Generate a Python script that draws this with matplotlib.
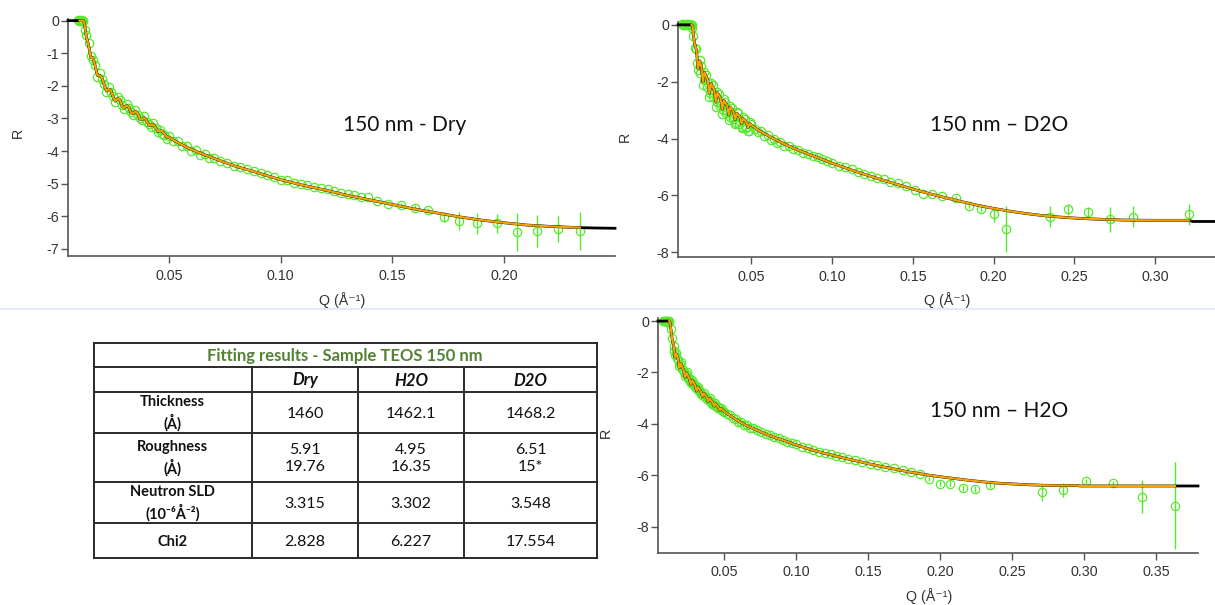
import matplotlib
matplotlib.use('Agg')
import matplotlib.pyplot as plt
from matplotlib.ticker import FormatStrFormatter

plt.rcParams['font.family'] = ['Liberation Sans', 'DejaVu Sans']
plt.rcParams['axes.unicode_minus'] = False

# ---------------- 150 nm - Dry ----------------
fit_q_dry = [0.0048, 0.0100, 0.0115, 0.0120, 0.0125,
             0.013, 0.014, 0.015, 0.016, 0.017, 0.018, 0.019, 0.020, 0.021, 0.022,
             0.023, 0.024, 0.025, 0.026, 0.027, 0.028, 0.029, 0.030, 0.031, 0.032,
             0.033, 0.034, 0.035, 0.036, 0.037, 0.038, 0.039, 0.040, 0.041, 0.042,
             0.043, 0.044, 0.045, 0.046, 0.047, 0.048, 0.049, 0.050,
             0.055, 0.060, 0.065, 0.070, 0.075, 0.080, 0.085, 0.090, 0.095, 0.100,
             0.110, 0.120, 0.130, 0.140, 0.150, 0.160, 0.170, 0.180, 0.190, 0.200,
             0.210, 0.220, 0.230, 0.234, 0.240, 0.2497]
fit_r_dry = [0.0, 0.0, 0.0, -0.05, -0.25,
             -0.50, -0.75, -1.13, -1.15, -1.40, -1.68, -1.68, -1.75, -1.98, -2.16,
             -2.10, -2.14, -2.35, -2.47, -2.39, -2.42, -2.62, -2.68, -2.60, -2.65,
             -2.83, -2.85, -2.78, -2.86, -3.02, -3.03, -2.98, -3.07, -3.20, -3.21,
             -3.18, -3.28, -3.39, -3.39, -3.39, -3.48, -3.57, -3.58,
             -3.78, -3.95, -4.09, -4.22, -4.35, -4.47, -4.57, -4.67, -4.78, -4.88,
             -5.05, -5.20, -5.36, -5.50, -5.64, -5.78, -5.90, -6.02, -6.12, -6.20,
             -6.27, -6.31, -6.34, -6.35, -6.36, -6.37]
q_dry = [0.0095, 0.0098, 0.0101, 0.0104, 0.0107, 0.0110, 0.0113, 0.0116, 0.0124,
         0.013, 0.014, 0.015, 0.016, 0.017, 0.018, 0.019, 0.020, 0.021, 0.022,
         0.023, 0.024, 0.025, 0.026, 0.027, 0.028, 0.029, 0.030, 0.031, 0.032,
         0.033, 0.034, 0.035, 0.036, 0.037, 0.038, 0.039, 0.040, 0.041, 0.042,
         0.043, 0.044, 0.045, 0.046, 0.047, 0.048, 0.049, 0.050,
         0.052, 0.054, 0.056, 0.058, 0.060, 0.062, 0.064, 0.066, 0.068, 0.070,
         0.073, 0.076, 0.079, 0.082, 0.085, 0.088, 0.091, 0.094, 0.097, 0.100,
         0.103, 0.106, 0.109, 0.112, 0.115, 0.118, 0.121, 0.124, 0.127,
         0.130, 0.133, 0.136, 0.139, 0.143]
r_dry = [0.01, -0.01, 0.02, 0.0, -0.02, 0.01, 0.0, -0.02, -0.29,
         -0.45, -0.70, -1.10, -1.20, -1.35, -1.72, -1.62, -1.80, -1.95, -2.20,
         -2.05, -2.18, -2.30, -2.50, -2.35, -2.45, -2.58, -2.70, -2.56, -2.68,
         -2.80, -2.88, -2.74, -2.90, -2.98, -3.06, -2.94, -3.10, -3.16, -3.25,
         -3.14, -3.30, -3.42, -3.36, -3.48, -3.52, -3.62, -3.55,
         -3.70, -3.70, -3.86, -3.84, -4.00, -3.96, -4.12, -4.08, -4.22, -4.20,
         -4.30, -4.38, -4.46, -4.50, -4.56, -4.62, -4.67, -4.74, -4.80, -4.88,
         -4.90, -4.97, -5.00, -5.05, -5.10, -5.14, -5.18, -5.22, -5.28,
         -5.32, -5.36, -5.40, -5.42, -5.52]
q_dry_tail = [0.148, 0.154, 0.160, 0.166, 0.173, 0.180, 0.188, 0.197, 0.206, 0.215, 0.224, 0.234]
r_dry_tail = [-5.62, -5.66, -5.74, -5.82, -6.03, -6.14, -6.22, -6.22, -6.49, -6.44, -6.39, -6.45]
e_dry_tail = [0.05, 0.06, 0.07, 0.08, 0.15, 0.28, 0.33, 0.28, 0.59, 0.49, 0.41, 0.59]

# ---------------- 150 nm - D2O ----------------
fit_q_d2o = [0.0046, 0.0130, 0.0137,
             0.014, 0.015, 0.016, 0.017, 0.018, 0.019, 0.020, 0.021, 0.022,
             0.023, 0.024, 0.025, 0.026, 0.027, 0.028, 0.029, 0.030, 0.031, 0.032,
             0.033, 0.034, 0.035, 0.036, 0.037, 0.038, 0.039, 0.040, 0.041, 0.042,
             0.043, 0.044, 0.045, 0.046, 0.047, 0.048, 0.049, 0.050,
             0.055, 0.060, 0.065, 0.070, 0.075, 0.080, 0.085, 0.090, 0.095, 0.100,
             0.110, 0.120, 0.130, 0.140, 0.150, 0.160, 0.170, 0.180, 0.190, 0.200,
             0.210, 0.220, 0.230, 0.240, 0.250, 0.260, 0.270, 0.280, 0.300, 0.321,
             0.323, 0.337]
fit_r_d2o = [0.0, 0.0, -0.05,
             -0.30, -0.70, -0.88, -1.55, -1.28, -1.45, -2.01, -1.68, -1.81,
             -1.94, -2.41, -2.07, -2.18, -2.30, -2.71, -2.39, -2.49, -2.60, -2.96,
             -2.66, -2.75, -2.84, -3.17, -2.90, -2.97, -3.06, -3.34, -3.11, -3.18,
             -3.25, -3.48, -3.30, -3.36, -3.43, -3.61, -3.47, -3.53,
             -3.73, -3.89, -4.04, -4.18, -4.31, -4.43, -4.54, -4.65, -4.76, -4.87,
             -5.07, -5.26, -5.44, -5.61, -5.78, -5.94, -6.08, -6.22, -6.35, -6.46,
             -6.56, -6.64, -6.71, -6.76, -6.80, -6.83, -6.85, -6.87, -6.88, -6.88,
             -6.92, -6.92]
q_d2o = [0.0070, 0.0075, 0.0080, 0.0085, 0.0090, 0.0095, 0.0100, 0.0105, 0.0110,
         0.0115, 0.0120, 0.0125, 0.0130, 0.0135,
         0.014, 0.015, 0.016, 0.017, 0.018, 0.019, 0.020, 0.021, 0.022,
         0.023, 0.024, 0.025, 0.026, 0.027, 0.028, 0.029, 0.030, 0.031, 0.032,
         0.033, 0.034, 0.035, 0.036, 0.037, 0.038, 0.039, 0.040, 0.041, 0.042,
         0.043, 0.044, 0.045, 0.046, 0.047, 0.048, 0.049, 0.050,
         0.0165, 0.0185, 0.0205, 0.0225, 0.0245, 0.0265, 0.0285, 0.0305, 0.0325,
         0.0345, 0.0365, 0.0385, 0.0405, 0.0425, 0.0445, 0.0465, 0.0485,
         0.052, 0.054, 0.056, 0.058, 0.060, 0.062, 0.064, 0.066, 0.068, 0.070,
         0.073, 0.076, 0.079, 0.082, 0.085, 0.088, 0.091, 0.094, 0.097, 0.100,
         0.104, 0.108, 0.112, 0.116, 0.120, 0.124, 0.128, 0.132, 0.136,
         0.141, 0.146, 0.151, 0.156, 0.162, 0.168]
r_d2o = [0.02, 0.0, 0.03, 0.01, -0.01, 0.02, 0.0, 0.03, 0.01,
         -0.01, 0.02, 0.0, -0.02, -0.10,
         -0.40, -0.80, -0.85, -1.60, -1.25, -1.45, -2.10, -1.65, -1.75,
         -2.05, -2.55, -2.05, -2.10, -2.45, -2.90, -2.35, -2.42, -2.78, -3.15,
         -2.62, -2.70, -3.02, -3.35, -2.85, -2.92, -3.25, -3.50, -3.05, -3.12,
         -3.42, -3.62, -3.25, -3.32, -3.58, -3.72, -3.42, -3.50,
         -1.35, -1.70, -1.95, -2.20, -2.40, -2.55, -2.70, -2.85, -3.00,
         -3.10, -3.25, -3.32, -3.45, -3.50, -3.58, -3.64, -3.72,
         -3.66, -3.78, -3.72, -3.92, -3.88, -4.05, -4.00, -4.16, -4.12, -4.26,
         -4.28, -4.38, -4.42, -4.50, -4.53, -4.63, -4.65, -4.72, -4.80, -4.85,
         -4.95, -5.02, -5.08, -5.17, -5.25, -5.32, -5.38, -5.44, -5.54,
         -5.58, -5.68, -5.80, -5.95, -5.97, -6.04]
q_d2o_tail = [0.1766, 0.1847, 0.192, 0.200, 0.2076, 0.235, 0.246, 0.2585, 0.272, 0.286, 0.321]
r_d2o_tail = [-6.10, -6.37, -6.49, -6.67, -7.18, -6.75, -6.49, -6.60, -6.84, -6.75, -6.67]
e_d2o_tail = [0.06, 0.08, 0.10, 0.26, 0.82, 0.38, 0.20, 0.20, 0.44, 0.38, 0.38]

# ---------------- 150 nm - H2O ----------------
fit_q_h2o = [0.0042, 0.0120, 0.0128,
             0.013, 0.014, 0.015, 0.016, 0.017, 0.018, 0.019, 0.020, 0.021, 0.022,
             0.023, 0.024, 0.025, 0.026, 0.027, 0.028, 0.029, 0.030, 0.031, 0.032,
             0.033, 0.034, 0.035, 0.036, 0.037, 0.038, 0.039, 0.040, 0.041, 0.042,
             0.043, 0.044, 0.045, 0.046, 0.047, 0.048, 0.049, 0.050,
             0.055, 0.060, 0.065, 0.070, 0.075, 0.080, 0.085, 0.090, 0.095, 0.100,
             0.110, 0.120, 0.130, 0.140, 0.150, 0.160, 0.170, 0.180, 0.190, 0.200,
             0.210, 0.220, 0.230, 0.240, 0.250, 0.260, 0.270, 0.280, 0.295, 0.297,
             0.363, 0.379]
fit_r_h2o = [0.0, 0.0, -0.10,
             -0.25, -0.70, -0.92, -1.40, -1.28, -1.45, -1.82, -1.65, -1.78, -1.92,
             -2.19, -2.02, -2.13, -2.24, -2.48, -2.31, -2.40, -2.51, -2.72, -2.57,
             -2.66, -2.75, -2.94, -2.81, -2.88, -2.96, -3.13, -3.01, -3.09, -3.16,
             -3.31, -3.22, -3.28, -3.35, -3.47, -3.40, -3.46, -3.51,
             -3.71, -3.89, -4.05, -4.18, -4.30, -4.42, -4.53, -4.62, -4.72, -4.82,
             -5.00, -5.15, -5.29, -5.42, -5.55, -5.67, -5.78, -5.89, -5.98, -6.06,
             -6.13, -6.20, -6.26, -6.31, -6.34, -6.37, -6.39, -6.40, -6.40, -6.42,
             -6.42, -6.42]
q_h2o = [0.0080, 0.0085, 0.0090, 0.0095, 0.0100, 0.0105, 0.0110, 0.0115, 0.0120,
         0.013, 0.014, 0.015, 0.016, 0.017, 0.018, 0.019, 0.020, 0.021, 0.022,
         0.023, 0.024, 0.025, 0.026, 0.027, 0.028, 0.029, 0.030, 0.031, 0.032,
         0.033, 0.034, 0.035, 0.036, 0.037, 0.038, 0.039, 0.040, 0.041, 0.042,
         0.043, 0.044, 0.045, 0.046, 0.047, 0.048, 0.049, 0.050,
         0.0155, 0.0175, 0.0195, 0.0215, 0.0235, 0.0255, 0.0275, 0.0295, 0.0315,
         0.0335, 0.0355, 0.0375, 0.0395, 0.0415, 0.0435, 0.0455, 0.0475, 0.0495,
         0.052, 0.054, 0.056, 0.058, 0.060, 0.062, 0.064, 0.066, 0.068, 0.070,
         0.073, 0.076, 0.079, 0.082, 0.085, 0.088, 0.091, 0.094, 0.097, 0.100,
         0.104, 0.108, 0.112, 0.116, 0.120, 0.124, 0.128, 0.132, 0.136,
         0.141, 0.146, 0.151, 0.156, 0.162, 0.168, 0.174, 0.180, 0.186]
r_h2o = [0.01, -0.01, 0.02, 0.0, 0.01, -0.02, 0.01, 0.0, -0.05,
         -0.30, -0.65, -0.98, -1.32, -1.25, -1.52, -1.75, -1.60, -1.85, -1.98,
         -2.12, -1.98, -2.20, -2.30, -2.42, -2.28, -2.46, -2.58, -2.66, -2.55,
         -2.72, -2.82, -2.88, -2.80, -2.95, -3.03, -3.08, -3.00, -3.15, -3.22,
         -3.26, -3.20, -3.34, -3.40, -3.42, -3.38, -3.52, -3.55,
         -1.15, -1.42, -1.68, -1.90, -2.05, -2.22, -2.36, -2.50, -2.62,
         -2.74, -2.86, -2.98, -3.08, -3.18, -3.28, -3.36, -3.44, -3.50,
         -3.60, -3.66, -3.77, -3.80, -3.92, -3.93, -4.05, -4.05, -4.15, -4.16,
         -4.26, -4.32, -4.40, -4.45, -4.52, -4.57, -4.64, -4.69, -4.76, -4.80,
         -4.89, -4.95, -5.02, -5.08, -5.13, -5.19, -5.25, -5.30, -5.36,
         -5.42, -5.49, -5.55, -5.61, -5.68, -5.73, -5.80, -5.86, -5.95]
q_h2o_tail = [0.1921, 0.1997, 0.2071, 0.2158, 0.2245, 0.2349, 0.2706, 0.2852, 0.3012, 0.3197, 0.340, 0.3632]
r_h2o_tail = [-6.15, -6.34, -6.34, -6.51, -6.54, -6.38, -6.67, -6.58, -6.23, -6.32, -6.84, -7.19]
e_h2o_tail = [0.08, 0.10, 0.10, 0.12, 0.12, 0.10, 0.32, 0.26, 0.10, 0.10, 0.64, 1.69]

# ---------------- table ----------------
table_title = 'Fitting results - Sample TEOS 150 nm'
table_header = ['Dry', 'H2O', 'D2O']
table_rows = ['Thickness\n(Å)', 'Roughness\n(Å)', 'Neutron SLD\n(10⁻⁶Å⁻²)', 'Chi2']
table_values = [['1460', '1462.1', '1468.2'],
                ['5.91\n19.76', '4.95\n16.35', '6.51\n15*'],
                ['3.315', '3.302', '3.548'],
                ['2.828', '6.227', '17.554']]

GREEN = '#55ea2c'
ORANGE = '#f5a300'
AXC = '#555555'
W, H = 1215, 605

fig = plt.figure(figsize=(W / 100, H / 100), dpi=100)


def px_axes(left, top, right, bottom):
    return fig.add_axes([left / W, 1 - bottom / H, (right - left) / W, (bottom - top) / H])


def draw_panel(ax, fit_q, fit_r, q, r, qt, rt, et, xlim, ylim, xticks, yticks):
    ax.plot(q, r, 'o', ms=6, mfc='none', mec=GREEN, mew=0.9, zorder=2, clip_on=False)
    ax.errorbar(qt, rt, yerr=et, fmt='o', ms=6, mfc='none', mec=GREEN, mew=0.9,
                ecolor=GREEN, elinewidth=1.0, capsize=0, zorder=2, clip_on=False)
    ax.plot(fit_q, fit_r, color='black', lw=2.0, zorder=3, clip_on=False)
    lo, hi = min(q), max(qt)
    oq = [a for a in fit_q if lo <= a <= hi + 1e-4]
    orr = [b for a, b in zip(fit_q, fit_r) if lo <= a <= hi + 1e-4]
    ax.plot(oq, orr, color=ORANGE, lw=1.6, zorder=4, clip_on=False)
    ax.set_xlim(*xlim)
    ax.set_ylim(*ylim)
    ax.set_xticks(xticks)
    ax.set_yticks(yticks)
    ax.xaxis.set_major_formatter(FormatStrFormatter('%.2f'))
    ax.yaxis.set_major_formatter(FormatStrFormatter('%d'))
    for s in ['top', 'right']:
        ax.spines[s].set_visible(False)
    for s in ['left', 'bottom']:
        ax.spines[s].set_color(AXC)
        ax.spines[s].set_linewidth(1.2)
    ax.tick_params(direction='out', length=5, width=1, color=AXC, labelsize=10.3,
                   labelcolor='#333333')
    ax.tick_params(axis='x', pad=4)
    ax.tick_params(axis='y', pad=1.5)
    ax.patch.set_alpha(0)


ax1 = px_axes(68, 19, 615, 256)
draw_panel(ax1, fit_q_dry, fit_r_dry, q_dry, r_dry, q_dry_tail, r_dry_tail, e_dry_tail,
           (0.0048, 0.2497), (-7.22, 0.05), [0.05, 0.10, 0.15, 0.20], range(0, -8, -1))

ax2 = px_axes(678, 22, 1215, 257)
draw_panel(ax2, fit_q_d2o, fit_r_d2o, q_d2o, r_d2o, q_d2o_tail, r_d2o_tail, e_d2o_tail,
           (0.0046, 0.337), (-8.17, 0.1), [0.05, 0.10, 0.15, 0.20, 0.25, 0.30], [0, -2, -4, -6, -8])

ax3 = px_axes(658, 318, 1198, 553)
draw_panel(ax3, fit_q_h2o, fit_r_h2o, q_h2o, r_h2o, q_h2o_tail, r_h2o_tail, e_h2o_tail,
           (0.0042, 0.379), (-9.03, 0.12), [0.05, 0.10, 0.15, 0.20, 0.25, 0.30, 0.35],
           [0, -2, -4, -6, -8])

# overlay in pixel coordinates for labels, titles and the results table
ov = fig.add_axes([0, 0, 1, 1], zorder=10)
ov.set_xlim(0, W)
ov.set_ylim(H, 0)
ov.axis('off')

ov.plot([0, W], [308.5, 308.5], color='#dde7f1', lw=1.2)

lab = dict(fontsize=10.3, color='#333333', ha='center', va='center',
           family=['Liberation Sans', 'DejaVu Sans'])
for x, y in [(18, 133), (625, 137), (606, 433)]:
    ov.text(x, y, 'R', rotation=90, **lab)
for x, y in [(342, 300), (947, 300), (929, 596)]:
    ov.text(x, y, 'Q (Å⁻¹)', **lab)

note = dict(fontsize=15, color='#111111', ha='center', va='center', family=['Lato', 'DejaVu Sans'])
ov.text(405, 125, '150 nm - Dry', **note)
ov.text(999, 125, '150 nm – D2O', **note)
ov.text(999, 411, '150 nm – H2O', **note)

# table grid
xs = [93.5, 252, 358, 464, 597]
ys = [343, 367, 392, 433, 482, 523, 558]
lc = '#2a2a2a'
for y in ys:
    ov.plot([xs[0], xs[-1]], [y, y], color=lc, lw=1.4, solid_capstyle='projecting')
for x in [xs[0], xs[-1]]:
    ov.plot([x, x], [ys[0], ys[-1]], color=lc, lw=1.4)
for x in xs[1:-1]:
    ov.plot([x, x], [ys[1], ys[-1]], color=lc, lw=1.4)

tf = ['Lato', 'DejaVu Sans']
ov.text((xs[0] + xs[-1]) / 2, (ys[0] + ys[1]) / 2 + 1, table_title, ha='center', va='center',
        fontsize=12, fontweight='bold', color='#548235', family=tf)
for i, h in enumerate(table_header):
    ov.text((xs[i + 1] + xs[i + 2]) / 2, (ys[1] + ys[2]) / 2 + 1, h, ha='center', va='center',
            fontsize=12, fontweight='bold', fontstyle='italic', color='#111111', family=tf)
for j, (name, vals) in enumerate(zip(table_rows, table_values)):
    yc = (ys[j + 2] + ys[j + 3]) / 2 + 1
    ov.text((xs[0] + xs[1]) / 2, yc, name, ha='center', va='center', fontsize=10.5,
            fontweight='bold', color='#111111', family=tf, linespacing=1.35)
    for i, v in enumerate(vals):
        ov.text((xs[i + 1] + xs[i + 2]) / 2, yc, v, ha='center', va='center', fontsize=11.5,
                color='#111111', family=tf, linespacing=1.35)

fig.savefig('out.png', dpi=100, facecolor='white')
